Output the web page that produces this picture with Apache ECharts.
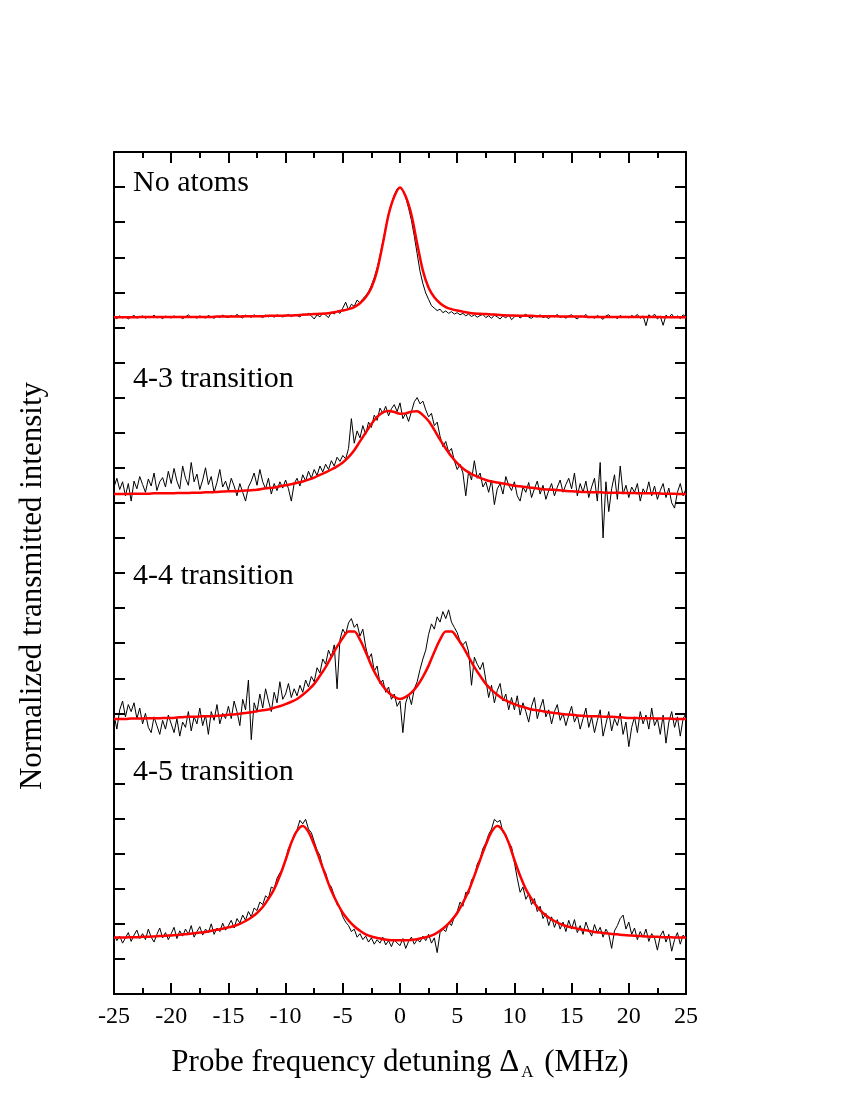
<!DOCTYPE html>
<html>
<head>
<meta charset="utf-8">
<title>Probe transmission spectra</title>
<script src="https://cdn.jsdelivr.net/npm/echarts@6.0.0/dist/echarts.min.js"></script>
<style>
    html, body { margin: 0; padding: 0; background: #fff; }
    #spectra-chart { width: 850px; height: 1100px; }
</style>
</head>
<body>
<div id="spectra-chart"></div>
<script>
    /**************** data ****************/
    // probe detuning of the measured points, MHz
    var detuning = [
        -25, -24.75, -24.5, -24.25, -24, -23.75, -23.5, -23.25, -23, -22.75, -22.5, -22.25, -22, -21.75, -21.5, -21.25, -21, -20.75, -20.5, -20.25,
        -20, -19.75, -19.5, -19.25, -19, -18.75, -18.5, -18.25, -18, -17.75, -17.5, -17.25, -17, -16.75, -16.5, -16.25, -16, -15.75, -15.5, -15.25,
        -15, -14.75, -14.5, -14.25, -14, -13.75, -13.5, -13.25, -13, -12.75, -12.5, -12.25, -12, -11.75, -11.5, -11.25, -11, -10.75, -10.5, -10.25,
        -10, -9.75, -9.5, -9.25, -9, -8.75, -8.5, -8.25, -8, -7.75, -7.5, -7.25, -7, -6.75, -6.5, -6.25, -6, -5.75, -5.5, -5.25,
        -5, -4.75, -4.5, -4.25, -4, -3.75, -3.5, -3.25, -3, -2.75, -2.5, -2.25, -2, -1.75, -1.5, -1.25, -1, -0.75, -0.5, -0.25,
        0, 0.25, 0.5, 0.75, 1, 1.25, 1.5, 1.75, 2, 2.25, 2.5, 2.75, 3, 3.25, 3.5, 3.75, 4, 4.25, 4.5, 4.75,
        5, 5.25, 5.5, 5.75, 6, 6.25, 6.5, 6.75, 7, 7.25, 7.5, 7.75, 8, 8.25, 8.5, 8.75, 9, 9.25, 9.5, 9.75,
        10, 10.25, 10.5, 10.75, 11, 11.25, 11.5, 11.75, 12, 12.25, 12.5, 12.75, 13, 13.25, 13.5, 13.75, 14, 14.25, 14.5, 14.75,
        15, 15.25, 15.5, 15.75, 16, 16.25, 16.5, 16.75, 17, 17.25, 17.5, 17.75, 18, 18.25, 18.5, 18.75, 19, 19.25, 19.5, 19.75,
        20, 20.25, 20.5, 20.75, 21, 21.25, 21.5, 21.75, 22, 22.25, 22.5, 22.75, 23, 23.25, 23.5, 23.75, 24, 24.25, 24.5, 24.75,
        25
    ];
    // the fits are given on every second point (0.5 MHz)
    var fitDetuning = detuning.filter(function (d, i) { return i % 2 === 0; });

    // measured transmission, stacked (arbitrary units, 1 unit = 1 tick)
    var noAtoms = [
        19.30, 19.25, 19.33, 19.27, 19.31, 19.24, 19.30, 19.34, 19.27, 19.29, 19.33, 19.26, 19.31, 19.28, 19.35, 19.27, 19.30, 19.25, 19.32, 19.29,
        19.27, 19.33, 19.28, 19.31, 19.25, 19.30, 19.36, 19.28, 19.31, 19.26, 19.33, 19.29, 19.27, 19.34, 19.30, 19.26, 19.32, 19.28, 19.35, 19.30,
        19.28, 19.34, 19.30, 19.37, 19.31, 19.27, 19.35, 19.32, 19.29, 19.36, 19.31, 19.33, 19.28, 19.35, 19.30, 19.34, 19.29, 19.36, 19.32, 19.30,
        19.33, 19.37, 19.31, 19.36, 19.34, 19.30, 19.38, 19.35, 19.40, 19.33, 19.24, 19.36, 19.30, 19.41, 19.35, 19.28, 19.44, 19.38, 19.47, 19.40,
        19.55, 19.72, 19.50, 19.66, 19.60, 19.78, 19.70, 19.82, 19.90, 20.02, 20.20, 20.42, 20.70, 21.05, 21.45, 21.85, 22.25, 22.52, 22.78, 22.95,
        22.97, 22.92, 22.70, 22.40, 22.05, 21.60, 21.10, 20.60, 20.25, 19.98, 19.80, 19.62, 19.55, 19.48, 19.52, 19.42, 19.47, 19.40, 19.45, 19.38,
        19.42, 19.36, 19.40, 19.33, 19.38, 19.31, 19.36, 19.29, 19.34, 19.37, 19.28, 19.33, 19.26, 19.35, 19.30, 19.24, 19.33, 19.27, 19.36, 19.22,
        19.30, 19.35, 19.27, 19.32, 19.38, 19.29, 19.26, 19.33, 19.30, 19.36, 19.28, 19.31, 19.25, 19.34, 19.30, 19.37, 19.28, 19.32, 19.26, 19.33,
        19.36, 19.29, 19.24, 19.33, 19.30, 19.37, 19.27, 19.31, 19.26, 19.34, 19.29, 19.23, 19.33, 19.36, 19.28, 19.31, 19.25, 19.34, 19.29, 19.32,
        19.27, 19.34, 19.30, 19.37, 19.26, 19.33, 19.05, 19.36, 19.29, 19.38, 19.24, 19.32, 19.06, 19.35, 19.28, 19.38, 19.27, 19.33, 19.25, 19.36,
        19.30
    ];
    var trans43 = [
        14.45, 14.70, 14.38, 14.60, 14.20, 14.55, 14.05, 14.62, 14.40, 14.75, 14.52, 14.30, 14.68, 14.48, 14.85, 14.35, 14.60, 14.72, 14.45, 14.90,
        14.55, 14.98, 14.62, 14.40, 15.05, 14.70, 14.50, 15.15, 14.60, 14.82, 14.38, 14.65, 15.00, 14.52, 14.75, 14.30, 14.58, 14.95, 14.45, 14.62,
        14.35, 14.70, 14.48, 14.20, 14.55, 14.30, 14.05, 14.45, 14.62, 14.85, 14.50, 14.95, 14.60, 14.40, 14.70, 14.25, 14.55, 14.35, 14.60, 14.42,
        14.65, 14.40, 14.05, 14.55, 14.70, 14.48, 14.80, 14.62, 14.90, 14.70, 14.95, 14.78, 15.05, 14.88, 15.10, 14.95, 15.20, 15.05, 15.30, 15.18,
        15.35, 15.25, 15.55, 16.40, 15.70, 16.05, 15.85, 16.20, 15.95, 16.30, 16.15, 16.50, 16.35, 16.70, 16.55, 16.75, 16.48, 16.68, 16.80, 16.60,
        16.85, 16.40, 16.55, 16.32, 16.60, 16.88, 17.00, 16.82, 16.90, 16.65, 16.45, 16.55, 16.20, 16.30, 15.90, 15.60, 15.75, 15.45, 15.55, 15.20,
        14.95, 15.10, 14.85, 14.20, 14.90, 14.65, 15.20, 14.70, 14.85, 14.45, 14.60, 14.30, 14.65, 13.95, 14.40, 14.55, 14.25, 14.75, 14.50, 14.35,
        14.60, 14.20, 14.05, 14.45, 14.30, 14.58, 14.15, 14.40, 14.62, 14.25, 14.50, 14.10, 14.35, 14.55, 14.20, 14.45, 14.65, 14.30, 14.52, 14.70,
        14.40, 14.85, 14.20, 14.55, 14.30, 14.62, 14.15, 14.45, 14.70, 14.05, 15.15, 13.00, 14.60, 13.75, 14.40, 14.80, 14.10, 15.05, 14.25, 14.50,
        14.15, 14.45, 14.30, 14.55, 14.05, 14.40, 14.25, 14.60, 14.20, 14.48, 14.10, 14.35, 14.55, 14.15, 14.42, 14.00, 13.85, 14.30, 14.55, 14.20,
        14.40
    ];
    var trans44 = [
        7.95, 7.55, 8.10, 8.35, 7.90, 8.25, 8.05, 8.30, 7.85, 8.15, 7.70, 8.00, 7.60, 7.45, 7.90, 7.65, 7.40, 7.80, 7.55, 7.95,
        7.70, 7.45, 7.85, 7.35, 7.75, 7.60, 8.05, 7.50, 7.90, 7.70, 8.15, 7.65, 7.95, 7.40, 8.05, 7.80, 8.25, 7.70, 8.00, 7.85,
        8.20, 7.85, 8.35, 8.05, 7.65, 8.40, 8.10, 8.95, 7.25, 8.30, 8.05, 8.55, 8.15, 8.70, 8.35, 8.05, 8.60, 8.30, 8.90, 8.40,
        8.55, 8.85, 8.45, 8.70, 8.50, 8.80, 8.60, 8.95, 8.75, 9.05, 8.90, 9.30, 9.15, 9.55, 9.40, 9.80, 9.60, 9.95, 8.70, 10.10,
        10.40, 10.25, 10.58, 10.70, 10.45, 10.55, 10.20, 10.40, 9.90, 9.55, 9.70, 9.20, 9.35, 8.85, 8.95, 8.60, 8.75, 8.40, 8.55, 8.20,
        8.35, 7.45, 8.30, 8.55, 8.25, 8.70, 8.90, 9.25, 9.55, 9.80, 10.25, 10.55, 10.40, 10.75, 10.60, 10.90, 10.70, 10.95, 10.60, 10.45,
        10.30, 10.05, 9.95, 10.05, 9.75, 8.80, 9.60, 9.40, 9.25, 9.45, 8.95, 8.45, 8.80, 8.30, 8.65, 8.85, 8.35, 8.55, 8.10, 8.45,
        8.10, 8.50, 7.95, 8.30, 8.05, 7.75, 8.20, 8.45, 7.85, 8.15, 8.40, 7.90, 8.10, 7.70, 8.05, 8.25, 7.80, 8.00, 7.65, 7.95,
        8.20, 7.75, 7.95, 7.55, 7.85, 8.15, 7.60, 7.90, 7.45, 7.80, 8.10, 7.35, 7.70, 8.05, 7.50, 7.85, 7.65, 8.00, 7.40, 7.75,
        7.05, 7.60, 7.90, 7.45, 8.05, 7.70, 7.95, 7.55, 8.15, 7.65, 7.85, 7.40, 7.95, 7.15, 7.75, 8.05, 7.60, 7.90, 7.35, 7.85,
        8.00
    ];
    var trans45 = [
        1.70, 1.52, 1.65, 1.45, 1.60, 1.75, 1.50, 1.68, 1.82, 1.58, 1.72, 1.55, 1.85, 1.62, 1.48, 1.70, 1.88, 1.60, 1.75, 1.55,
        1.72, 1.90, 1.58, 1.80, 1.65, 1.85, 1.70, 1.95, 1.62, 1.78, 1.92, 1.68, 1.85, 1.75, 2.00, 1.70, 1.88, 1.78, 2.02, 1.82,
        1.95, 2.10, 1.88, 2.15, 2.02, 2.25, 2.10, 2.35, 2.20, 2.45, 2.38, 2.62, 2.55, 2.80, 2.72, 3.05, 3.00, 3.30, 3.45, 3.55,
        3.85, 4.15, 4.30, 4.55, 4.68, 4.95, 4.85, 4.98, 4.70, 4.60, 4.35, 4.10, 3.95, 3.60, 3.45, 3.15, 3.05, 2.80, 2.55, 2.45,
        2.20, 2.05, 1.95, 1.78, 1.85, 1.62, 1.72, 1.55, 1.65, 1.48, 1.60, 1.42, 1.55, 1.45, 1.62, 1.40, 1.52, 1.35, 1.55, 1.45,
        1.38, 1.58, 1.30, 1.50, 1.62, 1.42, 1.55, 1.48, 1.65, 1.52, 1.70, 1.45, 1.60, 1.18, 1.75, 1.85, 1.78, 2.05, 1.95, 2.20,
        2.35, 2.62, 2.50, 2.90, 2.85, 3.25, 3.35, 3.70, 3.85, 4.15, 4.30, 4.55, 4.70, 4.98, 4.90, 4.95, 4.60, 4.55, 4.30, 4.20,
        3.75, 3.30, 2.90, 3.05, 2.70, 2.85, 2.55, 2.72, 2.35, 2.50, 2.15, 2.30, 1.95, 2.20, 1.90, 2.12, 1.85, 2.05, 1.78, 2.10,
        1.85, 2.12, 1.75, 1.95, 1.70, 2.05, 1.82, 1.65, 1.98, 1.75, 1.90, 1.62, 1.85, 1.70, 1.30, 1.80, 1.95, 2.15, 2.25, 1.85,
        2.05, 1.70, 1.88, 1.55, 1.78, 1.62, 1.85, 1.50, 1.72, 1.60, 1.25, 1.65, 1.80, 1.48, 1.70, 1.22, 1.55, 1.75, 1.42, 1.68,
        1.58
    ];

    // fitted curves (red), on fitDetuning
    var fitNoAtoms = [
        19.29, 19.29, 19.29, 19.29, 19.29, 19.30, 19.30, 19.30, 19.30, 19.30,
        19.30, 19.30, 19.30, 19.30, 19.30, 19.30, 19.30, 19.30, 19.31, 19.31,
        19.31, 19.31, 19.31, 19.32, 19.32, 19.32, 19.32, 19.33, 19.33, 19.33,
        19.34, 19.34, 19.35, 19.36, 19.37, 19.38, 19.39, 19.40, 19.42, 19.45,
        19.48, 19.52, 19.58, 19.69, 19.86, 20.13, 20.62, 21.39, 22.21, 22.73,
        22.99,
        22.73, 22.21, 21.39, 20.62, 20.13, 19.86, 19.69, 19.58, 19.52, 19.48,
        19.45, 19.42, 19.40, 19.39, 19.38, 19.37, 19.36, 19.35, 19.34, 19.34,
        19.33, 19.33, 19.33, 19.32, 19.32, 19.32, 19.32, 19.31, 19.31, 19.31,
        19.31, 19.31, 19.30, 19.30, 19.30, 19.30, 19.30, 19.30, 19.30, 19.30,
        19.30, 19.30, 19.30, 19.30, 19.30, 19.29, 19.29, 19.29, 19.29, 19.29
    ];
    var fit43 = [
        14.25, 14.25, 14.25, 14.26, 14.26, 14.26, 14.26, 14.27, 14.27, 14.27,
        14.27, 14.28, 14.28, 14.28, 14.29, 14.29, 14.30, 14.30, 14.31, 14.32,
        14.33, 14.33, 14.34, 14.35, 14.36, 14.37, 14.40, 14.42, 14.44, 14.47,
        14.50, 14.53, 14.57, 14.61, 14.66, 14.72, 14.80, 14.87, 14.95, 15.04,
        15.15, 15.30, 15.50, 15.75, 16.00, 16.25, 16.45, 16.58, 16.62, 16.59,
        16.54,
        16.55, 16.60, 16.61, 16.50, 16.33, 16.08, 15.80, 15.55, 15.32, 15.13,
        14.98, 14.87, 14.78, 14.71, 14.65, 14.61, 14.58, 14.55, 14.52, 14.49,
        14.47, 14.45, 14.43, 14.41, 14.39, 14.38, 14.37, 14.36, 14.34, 14.33,
        14.32, 14.31, 14.31, 14.30, 14.30, 14.29, 14.29, 14.29, 14.28, 14.28,
        14.28, 14.27, 14.27, 14.27, 14.27, 14.26, 14.26, 14.26, 14.25, 14.25
    ];
    var fit44 = [
        7.84, 7.84, 7.84, 7.85, 7.85, 7.85, 7.86, 7.86, 7.86, 7.87,
        7.87, 7.88, 7.89, 7.90, 7.90, 7.91, 7.92, 7.92, 7.93, 7.94,
        7.96, 7.97, 7.99, 8.01, 8.03, 8.06, 8.09, 8.11, 8.16, 8.20,
        8.26, 8.33, 8.41, 8.53, 8.67, 8.84, 9.07, 9.32, 9.61, 9.90,
        10.15, 10.33, 10.33, 10.10, 9.75, 9.36, 9.04, 8.78, 8.59, 8.47,
        8.41,
        8.47, 8.59, 8.78, 9.04, 9.36, 9.75, 10.10, 10.33, 10.33, 10.15,
        9.90, 9.61, 9.32, 9.07, 8.84, 8.67, 8.53, 8.41, 8.33, 8.26,
        8.20, 8.16, 8.11, 8.09, 8.06, 8.03, 8.01, 7.99, 7.97, 7.96,
        7.94, 7.93, 7.92, 7.92, 7.91, 7.90, 7.90, 7.89, 7.88, 7.87,
        7.87, 7.86, 7.86, 7.86, 7.85, 7.85, 7.85, 7.84, 7.84, 7.84
    ];
    var fit45 = [
        1.61, 1.61, 1.61, 1.62, 1.62, 1.63, 1.63, 1.64, 1.65, 1.66,
        1.67, 1.68, 1.70, 1.71, 1.73, 1.75, 1.77, 1.80, 1.83, 1.86,
        1.90, 1.94, 2.00, 2.08, 2.18, 2.31, 2.48, 2.71, 2.99, 3.37,
        3.82, 4.31, 4.65, 4.79, 4.62, 4.25, 3.82, 3.37, 2.94, 2.60,
        2.31, 2.10, 1.93, 1.80, 1.70, 1.64, 1.60, 1.56, 1.54, 1.53,
        1.53,
        1.53, 1.54, 1.56, 1.60, 1.64, 1.70, 1.80, 1.93, 2.10, 2.31,
        2.60, 2.94, 3.37, 3.82, 4.25, 4.62, 4.79, 4.65, 4.31, 3.82,
        3.37, 2.99, 2.71, 2.48, 2.31, 2.18, 2.08, 2.00, 1.94, 1.90,
        1.86, 1.83, 1.80, 1.77, 1.75, 1.73, 1.71, 1.70, 1.68, 1.67,
        1.66, 1.65, 1.64, 1.63, 1.63, 1.62, 1.62, 1.61, 1.61, 1.61
    ];

    var panelNames = ['No atoms', '4-3 transition', '4-4 transition', '4-5 transition'];

    /**************** layout ****************/
    var serif = '"Liberation Serif", "Times New Roman", serif';
    var panelLabelTop = [184, 380, 577, 773];

    function pairs(xs, ys) {
        return ys.map(function (y, i) {
            return [xs[i], y];
        });
    }

    function dataLine(values) {
        return {
            type: 'line',
            data: pairs(detuning, values),
            showSymbol: false,
            symbol: 'none',
            lineStyle: {color: '#000', width: 1},
            z: 2
        };
    }

    function fitLine(values) {
        return {
            type: 'line',
            data: pairs(fitDetuning, values),
            showSymbol: false,
            symbol: 'none',
            smooth: 0.3,
            lineStyle: {color: '#ff0000', width: 2.5},
            z: 3
        };
    }

    var frameLine = {show: true, onZero: false, lineStyle: {color: '#000', width: 2}};
    var majorTick = {show: true, inside: true, length: 11, lineStyle: {color: '#000', width: 2}};

    function xAxisCfg(position, showLabels) {
        return {
            type: 'value',
            position: position,
            min: -25,
            max: 25,
            interval: 5,
            axisLine: frameLine,
            axisTick: majorTick,
            minorTick: {show: true, splitNumber: 2, length: 6, lineStyle: {color: '#000', width: 2}},
            splitLine: {show: false},
            minorSplitLine: {show: false},
            axisLabel: {
                show: showLabels,
                margin: 11,
                color: '#000',
                fontFamily: serif,
                fontSize: 24
            }
        };
    }

    function yAxisCfg(position) {
        return {
            type: 'value',
            position: position,
            min: 0,
            max: 24,
            interval: 1,
            axisLine: frameLine,
            axisTick: majorTick,
            splitLine: {show: false},
            axisLabel: {show: false}
        };
    }

    var bottomAxis = xAxisCfg('bottom', true);
    bottomAxis.name = 'Probe frequency detuning \u0394{sub|A} (MHz)';
    bottomAxis.nameLocation = 'middle';
    bottomAxis.nameGap = 51;
    bottomAxis.nameTextStyle = {
        color: '#000',
        fontFamily: serif,
        fontSize: 31,
        rich: {
            sub: {fontFamily: serif, fontSize: 17, color: '#000', padding: [19, 3, 0, 2]}
        }
    };

    var graphics = panelNames.map(function (name, i) {
        return {
            type: 'text',
            left: 133,
            top: panelLabelTop[i] - 16,
            style: {text: name, font: '30px ' + serif, fill: '#000'}
        };
    });
    graphics.push({
        type: 'text',
        x: 33,
        y: 586,
        rotation: Math.PI / 2,
        style: {
            text: 'Normalized transmitted intensity',
            font: '31px ' + serif,
            fill: '#000',
            textAlign: 'center',
            textVerticalAlign: 'middle'
        }
    });

    var chart = echarts.init(document.getElementById('spectra-chart'), null, {renderer: 'canvas'});
    var option = {
        backgroundColor: '#fff',
        animation: false,
        grid: {left: 114, right: 164, top: 152, bottom: 106, containLabel: false, outerBoundsMode: 'none'},
        xAxis: [bottomAxis, xAxisCfg('top', false)],
        yAxis: [yAxisCfg('left'), yAxisCfg('right')],
        graphic: graphics,
        series: [
            dataLine(noAtoms), fitLine(fitNoAtoms),
            dataLine(trans43), fitLine(fit43),
            dataLine(trans44), fitLine(fit44),
            dataLine(trans45), fitLine(fit45)
        ]
    };
    chart.setOption(option);
</script>
</body>
</html>
